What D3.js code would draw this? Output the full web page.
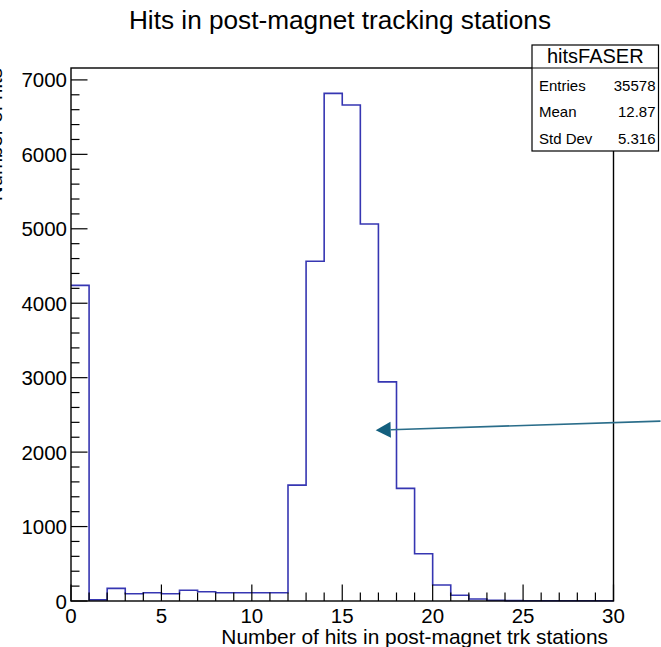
<!DOCTYPE html>
<html>
<head>
<meta charset="utf-8">
<script src="https://cdn.jsdelivr.net/npm/d3@7"></script>
<style>
  body { margin: 0; background: #fff; }
  svg { display: block; font-family: "Liberation Sans", Arial, Helvetica, sans-serif; }
</style>
</head>
<body>
<div id="chart"></div>
<script>
// histogram bins (lower edge) and counts
const binLow = [0, 1, 2, 3, 4, 5, 6, 7, 8, 9, 10, 11, 12, 13, 14, 15, 16, 17, 18, 19, 20, 21, 22, 23, 24, 25, 26, 27, 28, 29];
const counts = [4240, 15, 170, 98, 111, 98, 144, 125, 111, 111, 111, 111, 1557, 4564, 6819, 6662, 5064, 2944, 1513, 635, 215, 77, 27, 10, 5, 3, 3, 3, 3, 3];
const xTicks = [0, 5, 10, 15, 20, 25, 30];
const yTicks = [0, 1000, 2000, 3000, 4000, 5000, 6000, 7000];
const statsName = "hitsFASER";
const statsRows = [["Entries", "35578"], ["Mean", "12.87"], ["Std Dev", "5.316"]];
// arrow annotation, in data units: [from, to]
const arrowPts = [[32.6, 2416], [16.85, 2295]];

function drawHist() {
    const W = 661, H = 647;
    const frame = {left: 71, right: 613.5, top: 68, bottom: 601};

    const svg = d3.select("#chart")
        .append("svg")
        .attr("width", W)
        .attr("height", H);

    const x = d3.scaleLinear()
        .domain([0, 30])
        .range([frame.left, frame.right]);

    const yMax = 1.05 * d3.max(counts);
    const y = d3.scaleLinear()
        .domain([0, yMax])
        .range([frame.bottom, frame.top]);

    // step outline
    const pts = binLow.map((b, i) => [b, counts[i]]);
    pts.push([30, counts[counts.length - 1]]);
    const step = d3.line()
        .x(d => x(d[0]))
        .y(d => y(d[1]))
        .curve(d3.curveStepAfter);

    svg.append("path")
        .attr("d", step(pts))
        .attr("fill", "none")
        .attr("stroke", "#3636b2")
        .attr("stroke-width", 1.6);

    // ticks (drawn inside the frame, ROOT style)
    const xMinor = d3.range(0, 31, 1).filter(v => v % 5 !== 0);
    const yMinor = d3.range(0, 7001, 200).filter(v => v % 1000 !== 0);
    const ticks = svg.append("g").attr("stroke", "#000").attr("stroke-width", 1.2);

    ticks.selectAll(".xmaj").data(xTicks).enter().append("line")
        .attr("x1", d => x(d)).attr("x2", d => x(d))
        .attr("y1", frame.bottom).attr("y2", frame.bottom - 16.5);
    ticks.selectAll(".xmin").data(xMinor).enter().append("line")
        .attr("x1", d => x(d)).attr("x2", d => x(d))
        .attr("y1", frame.bottom).attr("y2", frame.bottom - 8.5);
    ticks.selectAll(".ymaj").data(yTicks).enter().append("line")
        .attr("x1", frame.left).attr("x2", frame.left + 16.5)
        .attr("y1", d => y(d)).attr("y2", d => y(d));
    ticks.selectAll(".ymin").data(yMinor).enter().append("line")
        .attr("x1", frame.left).attr("x2", frame.left + 8.5)
        .attr("y1", d => y(d)).attr("y2", d => y(d));

    // frame
    svg.append("rect")
        .attr("x", frame.left)
        .attr("y", frame.top)
        .attr("width", frame.right - frame.left)
        .attr("height", frame.bottom - frame.top)
        .attr("fill", "none")
        .attr("stroke", "#000")
        .attr("stroke-width", 1.4);

    // tick labels
    svg.selectAll(".xlab").data(xTicks).enter().append("text")
        .attr("x", d => x(d))
        .attr("y", frame.bottom + 22)
        .attr("text-anchor", "middle")
        .style("font-size", "20.5px")
        .text(d => d);

    svg.selectAll(".ylab").data(yTicks).enter().append("text")
        .attr("x", frame.left - 4)
        .attr("y", d => y(d) + 7.5)
        .attr("text-anchor", "end")
        .style("font-size", "20.5px")
        .text(d => d);

    // axis titles
    svg.append("text")
        .attr("x", 608)
        .attr("y", 644)
        .attr("text-anchor", "end")
        .style("font-size", "20.9px")
        .text("Number of hits in post-magnet trk stations");

    svg.append("text")
        .attr("transform", "rotate(-90)")
        .attr("x", -68)
        .attr("y", 1.5)
        .attr("text-anchor", "end")
        .style("font-size", "20.5px")
        .text("Number of hits");

    // title
    svg.append("text")
        .attr("x", 340)
        .attr("y", 29)
        .attr("text-anchor", "middle")
        .style("font-size", "26.2px")
        .text("Hits in post-magnet tracking stations");

    // stats box
    const box = {x: 532, y: 45, w: 126.5, h: 106, head: 23};
    const sb = svg.append("g");
    sb.append("rect")
        .attr("x", box.x).attr("y", box.y)
        .attr("width", box.w).attr("height", box.h)
        .attr("fill", "#fff")
        .attr("stroke", "#000")
        .attr("stroke-width", 1.2);
    sb.append("line")
        .attr("x1", box.x).attr("x2", box.x + box.w)
        .attr("y1", box.y + box.head).attr("y2", box.y + box.head)
        .attr("stroke", "#000")
        .attr("stroke-width", 1.2);
    sb.append("text")
        .attr("x", box.x + box.w / 2)
        .attr("y", box.y + 17.5)
        .attr("text-anchor", "middle")
        .style("font-size", "20px")
        .text(statsName);
    statsRows.forEach((r, i) => {
        const ty = box.y + 45.5 + i * 26.5;
        sb.append("text")
            .attr("x", box.x + 7)
            .attr("y", ty)
            .style("font-size", "15px")
            .text(r[0]);
        sb.append("text")
            .attr("x", box.x + box.w - 3)
            .attr("y", ty)
            .attr("text-anchor", "end")
            .style("font-size", "15px")
            .text(r[1]);
    });

    // arrow
    const a0 = [x(arrowPts[0][0]), y(arrowPts[0][1])];
    const a1 = [x(arrowPts[1][0]), y(arrowPts[1][1])];
    const ang = Math.atan2(a1[1] - a0[1], a1[0] - a0[0]);
    const headLen = 15, headHalf = 8;
    const bx = a1[0] - headLen * Math.cos(ang), by = a1[1] - headLen * Math.sin(ang);
    svg.append("line")
        .attr("x1", a0[0]).attr("y1", a0[1])
        .attr("x2", bx).attr("y2", by)
        .attr("stroke", "#2a6d8a")
        .attr("stroke-width", 1.6);
    const nx = -Math.sin(ang), ny = Math.cos(ang);
    svg.append("path")
        .attr("d", `M${a1[0]},${a1[1]}L${bx + nx * headHalf},${by + ny * headHalf}L${bx - nx * headHalf},${by - ny * headHalf}Z`)
        .attr("fill", "#135f7e");
}

drawHist();
</script>
</body>
</html>
